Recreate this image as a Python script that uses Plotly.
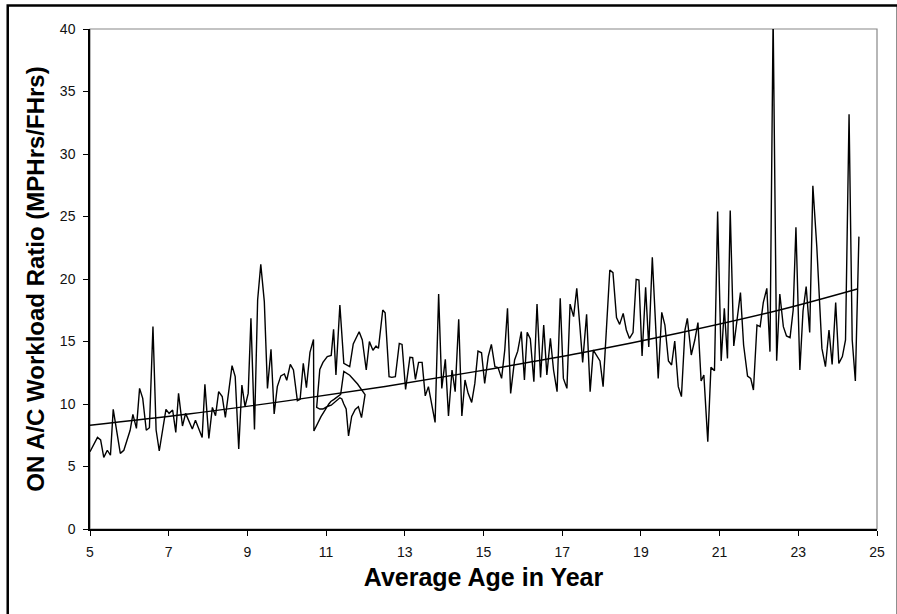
import plotly.graph_objects as go

# Main series: average age (years) vs ON A/C workload ratio (MPHrs/FHrs)
age = [5.0, 5.19, 5.27, 5.35, 5.44, 5.52, 5.59, 5.77, 5.86, 6.02, 6.09, 6.18, 6.26, 6.34, 6.43, 6.51,
       6.6, 6.68, 6.76, 6.93, 7.01, 7.1, 7.18, 7.25, 7.35, 7.43, 7.6, 7.68, 7.85, 7.92, 8.02, 8.11,
       8.19, 8.27, 8.36, 8.44, 8.61, 8.69, 8.78, 8.86, 8.94, 9.02, 9.09, 9.18, 9.26, 9.34, 9.43, 9.51,
       9.6, 9.68, 9.76, 9.85, 9.94, 10.0, 10.09, 10.17, 10.27, 10.34, 10.42, 10.5, 10.59, 10.68,
       10.69, 10.87, 11.07, 11.12, 11.2, 11.37, 11.45, 11.6, 11.8, 11.99,
       11.9, 11.82, 11.74, 11.65, 11.57, 11.51, 11.45, 11.40, 11.35, 11.25, 11.19, 11.13, 11.03, 10.92, 10.84, 10.76,
       10.84, 10.92, 11.03, 11.13, 11.19, 11.25, 11.35, 11.45, 11.6, 11.69, 11.84, 11.92,
       12.02, 12.1, 12.19, 12.27, 12.33, 12.44, 12.5, 12.6, 12.67, 12.76, 12.86, 12.93, 13.02, 13.13,
       13.2, 13.27, 13.35, 13.44, 13.52, 13.6, 13.77, 13.86, 13.94, 14.03, 14.11, 14.2, 14.28, 14.37,
       14.45, 14.53, 14.61, 14.7, 14.78, 14.86, 14.95, 15.03, 15.12, 15.2, 15.29, 15.37, 15.46, 15.54,
       15.61, 15.69, 15.79, 15.87, 15.96, 16.04, 16.11, 16.19, 16.28, 16.36, 16.45, 16.53, 16.61, 16.7,
       16.78, 16.87, 16.95, 17.03, 17.12, 17.2, 17.29, 17.37, 17.45, 17.52, 17.62, 17.71, 17.79, 17.88,
       17.96, 18.04, 18.13, 18.21, 18.29, 18.38, 18.46, 18.55, 18.63, 18.71, 18.8, 18.88, 18.95, 19.03,
       19.12, 19.2, 19.29, 19.44, 19.53, 19.61, 19.7, 19.78, 19.86, 19.95, 20.03, 20.12, 20.18, 20.28,
       20.37, 20.45, 20.53, 20.6, 20.7, 20.78, 20.87, 20.95, 21.04, 21.12, 21.2, 21.27, 21.36, 21.53,
       21.61, 21.71, 21.79, 21.86, 21.95, 22.03, 22.11, 22.2, 22.28, 22.36, 22.45, 22.53, 22.62, 22.7,
       22.79, 22.87, 22.94, 23.04, 23.12, 23.2, 23.29, 23.37, 23.47, 23.6, 23.69, 23.78, 23.86, 23.95,
       24.03, 24.12, 24.2, 24.29, 24.37, 24.45, 24.54]
ratio = [6.18, 7.33, 7.13, 5.73, 6.3, 5.9, 9.57, 6.05, 6.3, 7.9, 9.17, 8.05, 11.25, 10.45, 7.9, 8.1,
         16.19, 7.92, 6.24, 9.57, 9.25, 9.52, 7.73, 10.85, 8.24, 9.25, 8.0, 8.7, 7.33, 11.57, 7.25, 9.73,
         9.07, 10.99, 10.6, 8.93, 13.07, 12.19, 6.4, 11.52, 9.79, 10.85, 16.85, 7.97, 18.32, 21.17, 18.19, 11.25,
         14.37, 9.2, 11.39, 12.25, 12.4, 11.9, 13.17, 12.72, 10.27, 10.37, 13.25, 11.31, 14.13, 15.17,
         7.84, 8.99, 10.0, 10.2, 10.37, 10.77, 12.6, 12.3, 11.6, 10.75,
         8.91, 9.79, 9.57, 9.0, 7.44, 9.6, 10.0, 10.4, 10.5, 10.2, 10.0, 9.9, 9.8, 9.6, 9.6, 9.73,
         12.77, 13.33, 13.79, 13.89, 15.97, 12.32, 17.92, 13.25, 12.99, 14.8, 15.78, 15.12,
         12.72, 14.99, 14.3, 14.64, 14.45, 17.52, 17.3, 12.19, 12.13, 12.19, 14.85, 14.77, 11.17, 13.73,
         13.71, 11.97, 13.33, 13.33, 10.65, 11.39, 8.53, 18.8, 11.25, 13.57, 9.04, 12.72, 10.99, 16.77,
         9.04, 11.92, 10.85, 10.13, 11.65, 14.23, 14.1, 11.65, 13.79, 14.77, 12.99, 12.91, 12.05, 14.31,
         17.65, 10.85, 13.52, 14.23, 15.79, 11.92, 15.73, 15.2, 11.79, 17.99, 12.13, 16.32, 12.32, 15.25,
         12.72, 10.99, 18.45, 12.05, 11.25, 17.99, 16.99, 19.25, 16.19, 13.33, 17.17, 10.99, 14.31, 13.79,
         13.44, 11.39, 16.77, 20.72, 20.51, 16.91, 16.37, 17.25, 15.92, 15.25, 15.71, 19.97, 19.92, 13.84,
         19.33, 14.57, 21.73, 12.05, 17.33, 16.32, 13.44, 13.12, 15.04, 11.39, 10.59, 15.92, 16.85, 13.92,
         15.12, 16.51, 11.84, 12.32, 6.99, 12.93, 12.67, 25.39, 13.44, 17.65, 13.65, 25.47, 14.64, 18.91,
         14.72, 12.24, 12.05, 11.12, 16.32, 16.19, 18.11, 19.25, 14.19, 41.0, 13.47, 18.8, 16.19, 15.44,
         15.31, 17.52, 24.13, 12.72, 17.44, 19.39, 15.73, 27.45, 22.6, 14.45, 12.99, 15.92, 13.17, 18.11,
         13.25, 13.79, 15.12, 33.17, 15.12, 11.84, 23.39]

# Exponential trend line
trend_age = [5.0, 7.5, 10.0, 12.5, 15.0, 17.5, 20.0, 22.5, 24.5]
trend_ratio = [8.3, 9.2, 10.25, 11.4, 12.7, 14.1, 15.7, 17.5, 19.2]

x_ticks = [5, 7, 9, 11, 13, 15, 17, 19, 21, 23, 25]
y_ticks = [0, 5, 10, 15, 20, 25, 30, 35, 40]

FONT = "Liberation Sans, Arial, sans-serif"

fig = go.Figure()
fig.add_trace(go.Scatter(x=age, y=ratio, mode="lines",
                         line=dict(color="black", width=1.4), showlegend=False))
fig.add_trace(go.Scatter(x=trend_age, y=trend_ratio, mode="lines",
                         line=dict(color="black", width=1.4, shape="spline"), showlegend=False))

W, H = 897, 614
L, R, T, B = 90, 13, 29, 85
pw, ph = W - L - R, H - T - B

def px2paper_x(px):
    return (px - L) / pw

def px2paper_y(py):
    return (H - B - py) / ph

fig.update_layout(
    width=W, height=H,
    margin=dict(l=L, r=R, t=T, b=B, pad=0),
    paper_bgcolor="white", plot_bgcolor="white",
    font=dict(family=FONT, color="black"),
    xaxis=dict(range=[5, 25], tickvals=x_ticks, showgrid=False, zeroline=False,
               showline=True, linecolor="black", linewidth=1.5,
               ticks="outside", ticklen=5, tickcolor="black", tickwidth=1,
               ticklabelstandoff=4,
               tickfont=dict(size=14, family=FONT, color="#111"),
               title=dict(text="<b>Average Age in Year</b>", font=dict(size=25, family=FONT), standoff=10)),
    yaxis=dict(range=[0, 40], tickvals=y_ticks, showgrid=False, zeroline=False,
               showline=True, linecolor="black", linewidth=1.5,
               ticks="outside", ticklen=5, tickcolor="black", tickwidth=1,
               ticklabelstandoff=5,
               tickfont=dict(size=14, family=FONT, color="#111"),
               title=dict(text="<b>ON A/C Workload Ratio (MPHrs/FHrs)</b>", font=dict(size=24, family=FONT), standoff=8)),
    shapes=[
        dict(type="rect", xref="paper", yref="paper", x0=0, y0=0, x1=1, y1=1,
             line=dict(color="#888", width=1.2), layer="below"),
        dict(type="rect", xref="paper", yref="paper",
             x0=px2paper_x(7), y0=px2paper_y(625), x1=px2paper_x(905), y1=px2paper_y(5.5),
             line=dict(color="black", width=2.5)),
    ],
)

fig.write_html("out.html")
